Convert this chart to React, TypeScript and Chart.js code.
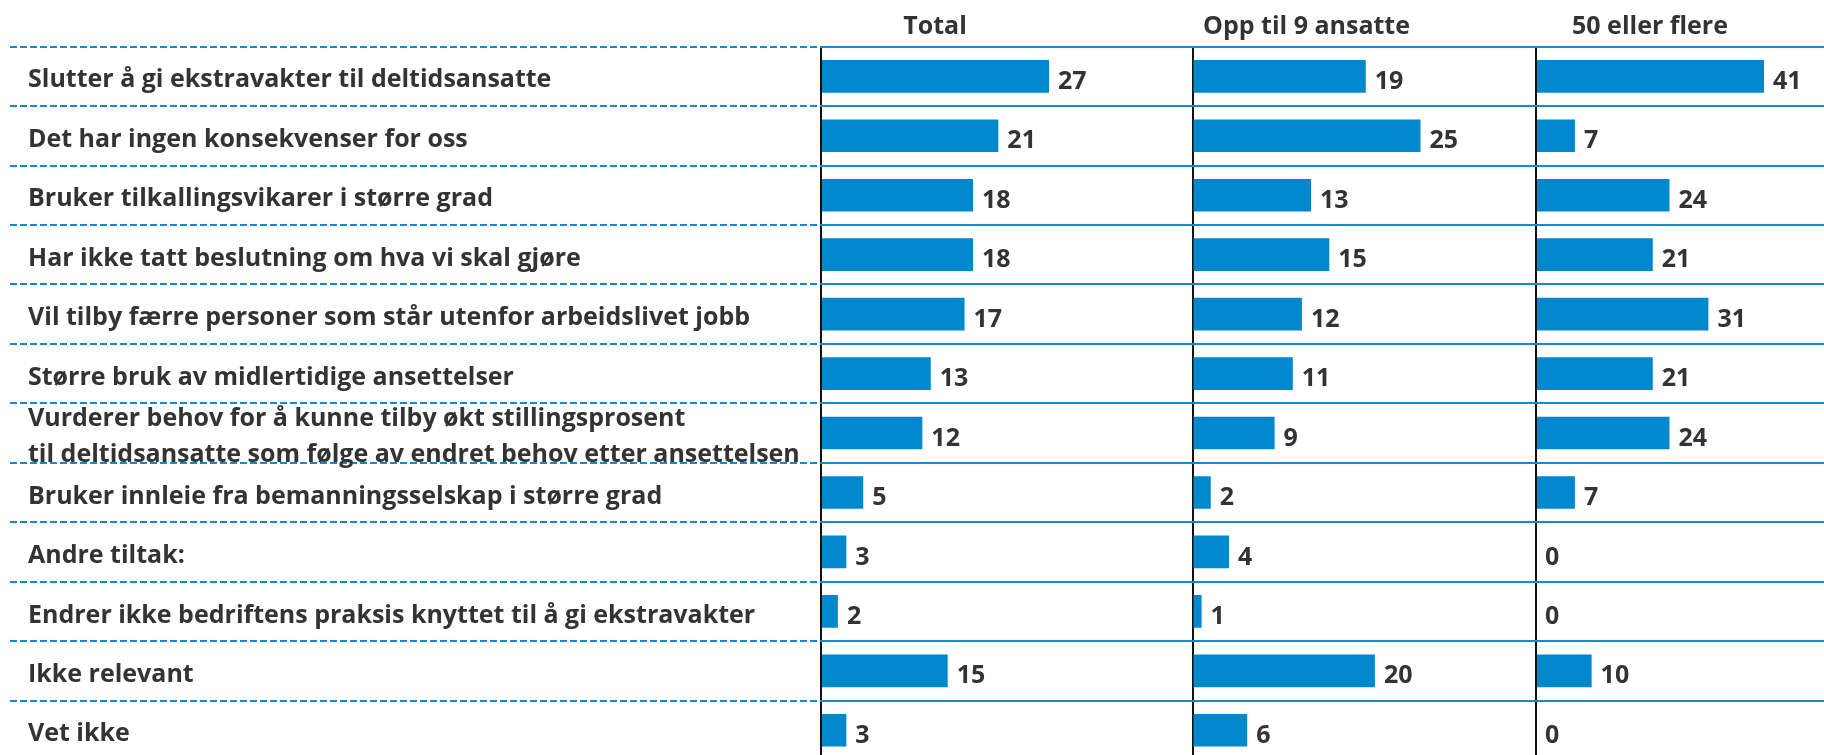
import React, { useEffect, useRef } from "react";
import { Chart, registerables } from "chart.js";

Chart.register(...registerables);

const categories: (string | string[])[] = [
  "Slutter å gi ekstravakter til deltidsansatte",
  "Det har ingen konsekvenser for oss",
  "Bruker tilkallingsvikarer i større grad",
  "Har ikke tatt beslutning om hva vi skal gjøre",
  "Vil tilby færre personer som står utenfor arbeidslivet jobb",
  "Større bruk av midlertidige ansettelser",
  [
    "Vurderer behov for å kunne tilby økt stillingsprosent",
    "til deltidsansatte som følge av endret behov etter ansettelsen",
  ],
  "Bruker innleie fra bemanningsselskap i større grad",
  "Andre tiltak:",
  "Endrer ikke bedriftens praksis knyttet til å gi ekstravakter",
  "Ikke relevant",
  "Vet ikke",
];

const panelTitles = ["Total", "Opp til 9 ansatte", "50 eller flere"];

const totalValues = [27, 21, 18, 18, 17, 13, 12, 5, 3, 2, 15, 3];
const smallValues = [19, 25, 13, 15, 12, 11, 9, 2, 4, 1, 20, 6];
const largeValues = [41, 7, 24, 21, 31, 21, 24, 7, 0, 0, 10, 0];

const FONT_FAMILY = "'Open Sans', sans-serif";
const FONT_SIZE = 25;
const TEXT_COLOR = "#333333";
const BAR_COLOR = "#0088CE";
const DASH_COLOR = "#1589d0";

const LABEL_COL = 821;
const LEFT_PAD = 28;
const HEADER_H = 46.6;
const PANEL_WIDTHS = [371.5, 343.5, 288];
const MAX_BAR = 228;

const valueLabels = {
  id: "valueLabels",
  afterDatasetsDraw(chart: any) {
    const ctx = chart.ctx;
    ctx.save();
    ctx.font = `bold ${FONT_SIZE}px ${FONT_FAMILY}`;
    ctx.fillStyle = TEXT_COLOR;
    ctx.textBaseline = "middle";
    ctx.textAlign = "left";
    chart.data.datasets.forEach((ds: any, i: number) => {
      const meta = chart.getDatasetMeta(i);
      meta.data.forEach((el: any, j: number) => {
        ctx.fillText(String(ds.data[j]), el.x + 9, el.y + 5.5);
      });
    });
    ctx.restore();
  },
};

function makeXAxis(values: number[], title: string, weight: number, order: number) {
  const dataMax = Math.max(...values);
  return {
    type: "linear",
    position: "top",
    stack: "panels",
    stackWeight: weight,
    weight: order,
    min: 0,
    max: (dataMax * weight) / MAX_BAR,
    afterBuildTicks: (scale: any) => {
      scale.ticks = [{ value: 0 }, { value: dataMax / 2 }];
    },
    afterFit: (scale: any) => {
      scale.height = HEADER_H;
    },
    border: { display: false },
    grid: {
      drawTicks: false,
      lineWidth: 2,
      color: (c: any) =>
        c.tick && c.tick.value === 0 ? "#111111" : "rgba(0,0,0,0)",
    },
    ticks: {
      autoSkip: false,
      maxRotation: 0,
      padding: 5,
      color: TEXT_COLOR,
      font: { family: FONT_FAMILY, size: FONT_SIZE, weight: "bold", lineHeight: 1.2 },
      callback: (v: any) => (v === 0 ? "" : title),
    },
  };
}

export default function App() {
  const canvasRef = useRef<HTMLCanvasElement | null>(null);

  useEffect(() => {
    if (!canvasRef.current) return;
    const chart = new Chart(canvasRef.current, {
      type: "bar",
      data: {
        labels: categories as any,
        datasets: [
          { label: panelTitles[0], data: totalValues, xAxisID: "x1", yAxisID: "y" },
          { label: panelTitles[1], data: smallValues, xAxisID: "x2", yAxisID: "y" },
          { label: panelTitles[2], data: largeValues, xAxisID: "x3", yAxisID: "y" },
        ].map((d) => ({
          ...d,
          backgroundColor: BAR_COLOR,
          grouped: false,
          barPercentage: 0.55,
          categoryPercentage: 1,
        })),
      },
      options: {
        indexAxis: "y",
        animation: false,
        responsive: true,
        maintainAspectRatio: false,
        layout: { padding: { left: LEFT_PAD, top: 0, right: 0, bottom: 0 } },
        plugins: {
          legend: { display: false },
          tooltip: { enabled: false },
        },
        scales: {
          x1: makeXAxis(totalValues, panelTitles[0], PANEL_WIDTHS[0], 3),
          x2: makeXAxis(smallValues, panelTitles[1], PANEL_WIDTHS[1], 2),
          x3: makeXAxis(largeValues, panelTitles[2], PANEL_WIDTHS[2], 1),
          y: {
            type: "category",
            position: "left",
            afterFit: (scale: any) => {
              scale.width = LABEL_COL - LEFT_PAD;
              scale.paddingTop = 0;
              scale.paddingBottom = 0;
            },
            border: { display: false },
            grid: {
              offset: true,
              color: DASH_COLOR,
              lineWidth: 2,
              borderDash: [7, 3],
              tickBorderDash: [7, 3],
              tickColor: DASH_COLOR,
              tickWidth: 2,
              tickLength: LABEL_COL - 10,
              drawTicks: true,
            },
            ticks: {
              autoSkip: false,
              crossAlign: "far",
              padding: 0,
              labelOffset: 4,
              color: TEXT_COLOR,
              font: { family: FONT_FAMILY, size: FONT_SIZE, weight: "bold", lineHeight: 1.45 },
            },
          },
        } as any,
      },
      plugins: [valueLabels],
    } as any);
    return () => chart.destroy();
  }, []);

  return (
    <div
      style={{
        position: "fixed",
        left: 0,
        top: 0,
        width: 1824,
        height: 755,
        overflow: "hidden",
        background: "#ffffff",
      }}
    >
      <div style={{ position: "relative", width: 1824, height: 760 }}>
        <canvas ref={canvasRef} />
      </div>
    </div>
  );
}
